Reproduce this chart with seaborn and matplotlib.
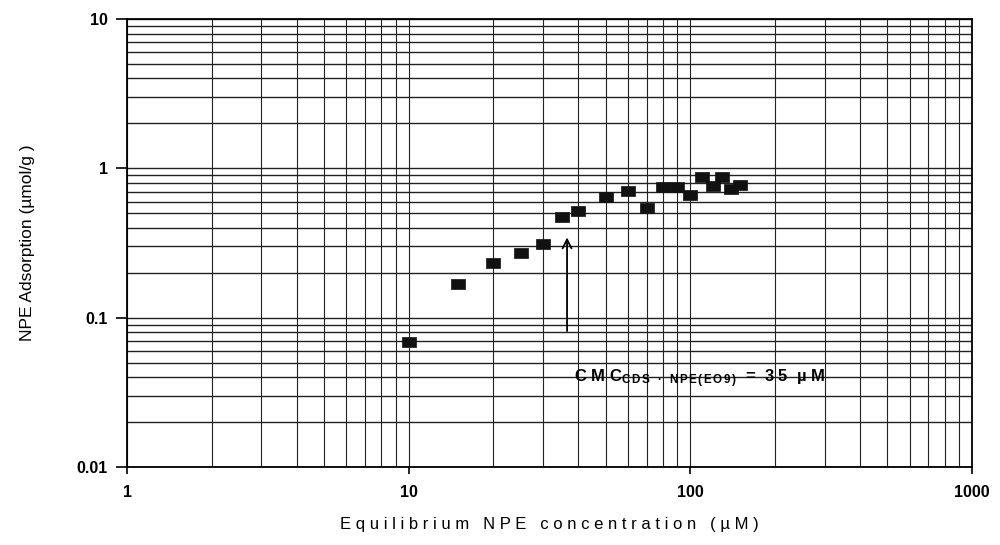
import matplotlib
matplotlib.use("Agg")
import matplotlib.pyplot as plt
import seaborn as sns
import pandas as pd
from matplotlib.ticker import LogLocator, FixedLocator, FixedFormatter, NullFormatter

conc = [10, 15, 20, 25, 30, 35, 40, 50, 60, 70, 80, 90, 100, 110, 120, 130, 140, 150]
adsorption = [0.069, 0.169, 0.234, 0.273, 0.314, 0.476, 0.515, 0.64, 0.71, 0.54,
              0.745, 0.745, 0.66, 0.87, 0.76, 0.87, 0.73, 0.77]
x_ticks = [1, 10, 100, 1000]
x_tick_labels = ["1", "10", "100", "1000"]
y_ticks = [0.01, 0.1, 1, 10]
y_tick_labels = ["0.01", "0.1", "1", "10"]

sns.set_style("white")
plt.rcParams['font.family'] = ['Liberation Sans', 'DejaVu Sans']
plt.rcParams['mathtext.fontset'] = 'custom'
plt.rcParams['mathtext.rm'] = 'Liberation Sans'
plt.rcParams['mathtext.it'] = 'Liberation Sans'
plt.rcParams['mathtext.bf'] = 'Liberation Sans:bold'
plt.rcParams['text.color'] = 'black'
plt.rcParams['axes.labelcolor'] = 'black'

df = pd.DataFrame({"conc": conc, "ads": adsorption})

fig = plt.figure(figsize=(10, 5.45), dpi=100)
ax = fig.add_axes([0.127, 0.143, 0.845, 0.822])

rect = [(-1.45, -1), (1.45, -1), (1.45, 1), (-1.45, 1), (-1.45, -1)]
sns.scatterplot(data=df, x="conc", y="ads", ax=ax, marker=rect, s=100,
                color="#111111", edgecolor="#111111", linewidth=0.5, zorder=5)

ax.set_xscale("log")
ax.set_yscale("log")
ax.set_xlim(1, 1000)
ax.set_ylim(0.01, 10)

ax.xaxis.set_major_locator(FixedLocator(x_ticks))
ax.xaxis.set_major_formatter(FixedFormatter(x_tick_labels))
ax.yaxis.set_major_locator(FixedLocator(y_ticks))
ax.yaxis.set_major_formatter(FixedFormatter(y_tick_labels))
ax.xaxis.set_minor_locator(LogLocator(base=10, subs=range(2, 10)))
ax.yaxis.set_minor_locator(LogLocator(base=10, subs=range(2, 10)))
ax.xaxis.set_minor_formatter(NullFormatter())
ax.yaxis.set_minor_formatter(NullFormatter())

ax.grid(True, which="both", axis="x", color="#222222", linewidth=0.8)
ax.grid(True, which="both", axis="y", color="#222222", linewidth=1.0)

for s in ax.spines.values():
    s.set_color("black")
    s.set_linewidth(1.3)

ax.tick_params(axis="y", which="major", direction="out", length=8, width=1.2,
               colors="black", labelsize=11.5, left=True, pad=6)
ax.tick_params(axis="x", which="major", direction="out", length=5, width=1.2,
               colors="black", labelsize=11.5, bottom=True, pad=8)
ax.tick_params(axis="both", which="minor", length=0)
for lab in ax.get_xticklabels() + ax.get_yticklabels():
    lab.set_fontweight("bold")

ax.set_xlabel("E q u i l i b r i u m   N P E   c o n c e n t r a t i o n   ( µ M )",
              fontsize=12, labelpad=12)
ax.set_ylabel("NPE Adsorption (µmol/g )", fontsize=12.5, labelpad=30)

ax.annotate("", xy=(36.5, 0.36), xytext=(36.5, 0.078),
            arrowprops=dict(arrowstyle="->", color="black", lw=1.3,
                            mutation_scale=16), zorder=6)
ax.text(38.5, 0.039,
        r"C M C$_{\mathbf{C\,D\,S\ \ \bullet\ \ N\,P\,E\,(\,E\,O\,9\,)}}$  =  3 5  µ M",
        fontsize=12, fontweight="bold", va="center", ha="left", zorder=6)

fig.savefig("out.png", dpi=100)
